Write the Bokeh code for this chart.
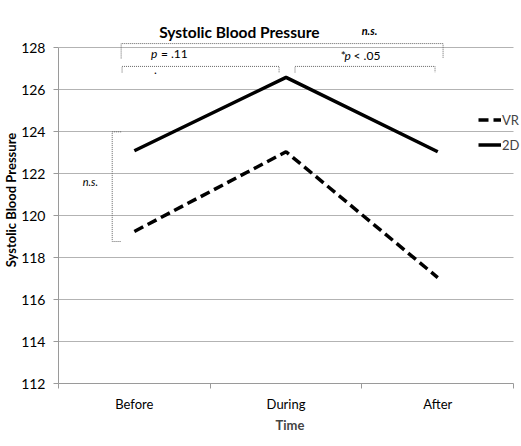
from bokeh.plotting import figure
from bokeh.models import (Range1d, FixedTicker, Label, Legend, LegendItem, Title)
from bokeh.embed import file_html
from bokeh.resources import INLINE

# ---- data ----
categories = ["Before", "During", "After"]
vr_values = [119.25, 123.05, 117.05]
twod_values = [123.1, 126.6, 123.05]
y_ticks = [112, 114, 116, 118, 120, 122, 124, 126, 128]

FONT = "Lato"

xs = [i + 0.5 for i in range(len(categories))]
n_cat = len(categories)

p = figure(width=521, height=446, output_backend="svg", toolbar_location=None,
           x_range=Range1d(0, n_cat + 0.052), y_range=Range1d(112, 129.5),
           min_border_left=55, min_border_right=0, min_border_top=16, min_border_bottom=63)
p.outline_line_color = None
p.background_fill_color = "white"

# lines
r_vr = p.line(xs, vr_values, line_color="black", line_width=3.5, line_dash="10 5")
r_2d = p.line(xs, twod_values, line_color="black", line_width=3.5)

# x axis
xa = p.xaxis[0]
xa.ticker = FixedTicker(ticks=xs, minor_ticks=list(range(n_cat + 1)))
xa.bounds = (0, n_cat)
xa.major_label_overrides = {x: c for x, c in zip(xs, categories)}
xa.major_tick_out = 0
xa.major_tick_in = 0
xa.minor_tick_out = 5
xa.minor_tick_in = 0
xa.minor_tick_line_color = "#9a9a9a"
xa.axis_line_color = "#9a9a9a"
xa.major_label_text_font = FONT
xa.major_label_text_font_size = "13px"
xa.major_label_text_color = "black"
xa.major_label_standoff = 7
xa.axis_label = "Time"
xa.axis_label_text_font = FONT
xa.axis_label_text_font_style = "bold"
xa.axis_label_text_font_size = "13px"
xa.axis_label_standoff = 2

# y axis
ya = p.yaxis[0]
ya.ticker = FixedTicker(ticks=y_ticks)
ya.bounds = (y_ticks[0], y_ticks[-1])
ya.major_tick_out = 5
ya.major_tick_in = 0
ya.minor_tick_out = 0
ya.minor_tick_in = 0
ya.major_tick_line_color = "#9a9a9a"
ya.axis_line_color = "#9a9a9a"
ya.major_label_text_font = FONT
ya.major_label_text_font_size = "14px"
ya.major_label_text_color = "black"
ya.major_label_standoff = 8

# y axis title as a side title (outside the tick labels)
p.add_layout(Title(text="Systolic Blood Pressure", align="center", text_font=FONT,
                   text_font_style="bold", text_font_size="13px", text_color="black",
                   standoff=0, offset=0), "left")

p.xgrid.visible = False
p.ygrid.ticker = FixedTicker(ticks=y_ticks)
p.ygrid.grid_line_color = "#b3b3b3"
try:
    p.ygrid.cross_bounds = (0, n_cat)
except Exception:
    pass

# legend
legend = Legend(items=[LegendItem(label="VR", renderers=[r_vr]),
                       LegendItem(label="2D", renderers=[r_2d])],
                location=(420, 230), orientation="vertical",
                border_line_color=None, background_fill_alpha=0,
                glyph_width=23, glyph_height=17, label_standoff=1,
                spacing=8, padding=0, margin=0,
                label_text_font=FONT, label_text_font_size="13px")
p.add_layout(legend)

# significance brackets (dotted)
br = dict(line_color="#666666", line_width=1, line_dash="1 1")
p.line([0.413, 0.413, 2.535, 2.535], [127.50, 128.21, 128.21, 127.50], **br)
p.line([0.419, 0.419, 1.454, 1.454], [126.83, 127.12, 127.12, 126.83], **br)
p.line([1.559, 1.559, 2.482, 2.482], [126.83, 127.12, 127.12, 126.83], **br)
p.line([0.413, 0.354, 0.354, 0.413], [124.0, 124.0, 118.77, 118.77], **br)

def lab(x, y, text, style="normal", size="12px", align="left"):
    p.add_layout(Label(x=x, y=y, text=text, text_font=FONT, text_font_style=style,
                       text_font_size=size, text_align=align,
                       text_baseline="alphabetic", text_color="black"))

lab(1.192, 128.75, "Systolic Blood Pressure", "bold", "15.5px", "center")
lab(2.050, 128.85, "n.s.", "bold italic", "11px", "center")
lab(0.609, 127.72, "p", "italic", "12px")
lab(0.675, 127.72, "= .11", "normal", "12px")
lab(0.629, 126.97, ".", "normal", "12px")
lab(1.860, 127.62, "*", "normal", "12px")
lab(1.886, 127.62, "p", "italic", "12px")
lab(1.945, 127.62, "< .05", "normal", "12px")
lab(0.210, 121.65, "n.s.", "italic", "11px", "center")

open("out.html", "w").write(file_html(p, INLINE))
